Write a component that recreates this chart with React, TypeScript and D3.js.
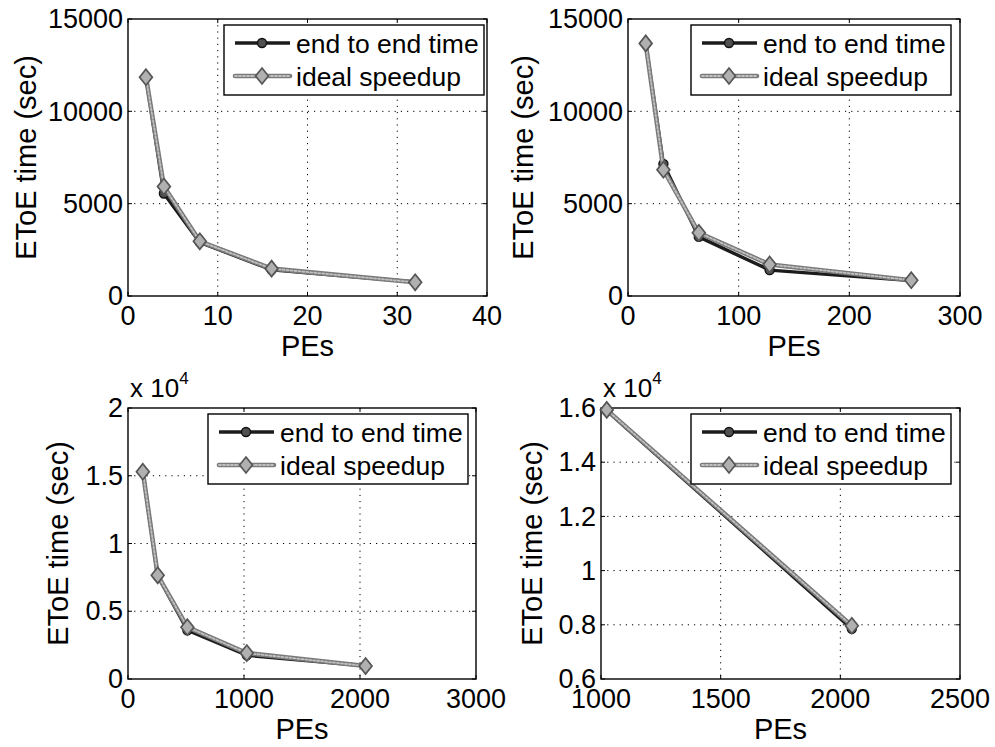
import React from "react";
import * as d3 from "d3";

// ---------- data ----------
const pes1 = [2, 4, 8, 16, 32];
const endToEnd1 = [11850, 5550, 2900, 1420, 760];
const ideal1 = [11850, 5925, 2962, 1481, 740];

const pes2 = [16, 32, 64, 128, 256];
const endToEnd2 = [13680, 7150, 3200, 1400, 830];
const ideal2 = [13680, 6840, 3420, 1710, 855];

const pes3 = [128, 256, 512, 1024, 2048];
const endToEnd3 = [15300, 7600, 3600, 1750, 980];
const ideal3 = [15300, 7650, 3825, 1912, 956];

const pes4 = [1024, 2048];
const endToEnd4 = [15900, 7850];
const ideal4 = [15930, 7965];

const xTicks1 = [0, 10, 20, 30, 40];
const xTicks2 = [0, 100, 200, 300];
const xTicks3 = [0, 1000, 2000, 3000];
const xTicks4 = [1000, 1500, 2000, 2500];
const yTicksA = [0, 5000, 10000, 15000];
const yTicks3 = [0, 5000, 10000, 15000, 20000];
const yTicks4 = [6000, 8000, 10000, 12000, 14000, 16000];

const seriesNames = ["end to end time", "ideal speedup"];
const xLabel = "PEs";
const yLabel = "EToE time (sec)";

// ---------- layout ----------
type Panel = {
  box: [number, number, number, number]; // left, right, top, bottom
  xDom: [number, number];
  yDom: [number, number];
  xTicks: number[];
  yTicks: number[];
  pes: number[];
  e2e: number[];
  ideal: number[];
  sci: boolean;
  yLabelX: number;
  legendRight: number;
};

const panels: Panel[] = [
  { box: [128, 487, 19, 296], xDom: [0, 40], yDom: [0, 15000], xTicks: xTicks1, yTicks: yTicksA, pes: pes1, e2e: endToEnd1, ideal: ideal1, sci: false, yLabelX: 36, legendRight: 484 },
  { box: [628, 960, 19, 296], xDom: [0, 300], yDom: [0, 15000], xTicks: xTicks2, yTicks: yTicksA, pes: pes2, e2e: endToEnd2, ideal: ideal2, sci: false, yLabelX: 533, legendRight: 951 },
  { box: [128, 476, 408, 679], xDom: [0, 3000], yDom: [0, 20000], xTicks: xTicks3, yTicks: yTicks3, pes: pes3, e2e: endToEnd3, ideal: ideal3, sci: true, yLabelX: 68, legendRight: 468 },
  { box: [601, 960, 408, 679], xDom: [1000, 2500], yDom: [6000, 16000], xTicks: xTicks4, yTicks: yTicks4, pes: pes4, e2e: endToEnd4, ideal: ideal4, sci: true, yLabelX: 542, legendRight: 951 },
];

const FONT = "'Liberation Sans', Arial, Helvetica, sans-serif";

function fmtSci(v: number) {
  const s = v / 10000;
  return d3.format("~g")(+s.toFixed(2));
}

function Diamond({ x, y }: { x: number; y: number }) {
  const r = 8;
  return (
    <path
      d={`M${x},${y - r}L${x + r * 0.8},${y}L${x},${y + r}L${x - r * 0.8},${y}Z`}
      fill="#b0b0b0"
      stroke="#555"
      strokeWidth={1.7}
    />
  );
}

function Dot({ x, y }: { x: number; y: number }) {
  return <circle cx={x} cy={y} r={4.5} fill="#505050" stroke="#111" strokeWidth={1.4} />;
}

function IdealLine({ d }: { d: string }) {
  return (
    <g fill="none" strokeLinejoin="round" strokeLinecap="round">
      <path d={d} stroke="#7a7a7a" strokeWidth={4.6} />
      <path d={d} stroke="#c0c0c0" strokeWidth={1.8} strokeDasharray="2,2" />
    </g>
  );
}

function E2ELine({ d }: { d: string }) {
  return <path d={d} fill="none" stroke="#1c1c1c" strokeWidth={3.4} strokeLinejoin="round" />;
}

function PanelView({ p }: { p: Panel }) {
  const [L, R, T, B] = p.box;
  const x = d3.scaleLinear().domain(p.xDom).range([L, R]);
  const y = d3.scaleLinear().domain(p.yDom).range([B, T]);
  const line = d3
    .line<[number, number]>()
    .x((d) => x(d[0]))
    .y((d) => y(d[1]));
  const e2ePts = p.pes.map((v, i) => [v, p.e2e[i]] as [number, number]);
  const idealPts = p.pes.map((v, i) => [v, p.ideal[i]] as [number, number]);
  const tickLen = 4;
  const grid = "1.2,5";

  const lgW = 260;
  const lgL = p.legendRight - lgW;
  const lgT = T + 6;
  const lgH = 70;

  return (
    <g fontFamily={FONT}>
      {/* grid */}
      {p.xTicks
        .filter((t) => t !== p.xDom[0] && t !== p.xDom[1])
        .map((t) => (
          <line key={"gx" + t} x1={x(t)} x2={x(t)} y1={T} y2={B} stroke="#000" strokeWidth={1} strokeDasharray={grid} />
        ))}
      {p.yTicks
        .filter((t) => t !== p.yDom[0] && t !== p.yDom[1])
        .map((t) => (
          <line key={"gy" + t} x1={L} x2={R} y1={y(t)} y2={y(t)} stroke="#000" strokeWidth={1} strokeDasharray={grid} />
        ))}
      {/* ticks */}
      {p.xTicks.map((t) => (
        <g key={"tx" + t}>
          <line x1={x(t)} x2={x(t)} y1={B} y2={B - tickLen} stroke="#000" />
          <line x1={x(t)} x2={x(t)} y1={T} y2={T + tickLen} stroke="#000" />
          <text x={x(t)} y={B + 29} fontSize={27} textAnchor="middle" fill="#000">
            {t}
          </text>
        </g>
      ))}
      {p.yTicks.map((t) => (
        <g key={"ty" + t}>
          <line x1={L} x2={L + tickLen} y1={y(t)} y2={y(t)} stroke="#000" />
          <line x1={R} x2={R - tickLen} y1={y(t)} y2={y(t)} stroke="#000" />
          <text x={L - 5} y={y(t)} dy="0.34em" fontSize={27} textAnchor="end" fill="#000">
            {p.sci ? fmtSci(t) : t}
          </text>
        </g>
      ))}
      {p.sci && (
        <text x={L + 2} y={T - 11} fontSize={26} fill="#000">
          x 10
          <tspan dy={-13} fontSize={17}>
            4
          </tspan>
        </text>
      )}
      {/* frame */}
      <rect x={L} y={T} width={R - L} height={B - T} fill="none" stroke="#000" strokeWidth={1.4} />
      {/* series */}
      <E2ELine d={line(e2ePts) || ""} />
      {e2ePts.map((d, i) => (
        <Dot key={"d" + i} x={x(d[0])} y={y(d[1])} />
      ))}
      <IdealLine d={line(idealPts) || ""} />
      {idealPts.map((d, i) => (
        <Diamond key={"m" + i} x={x(d[0])} y={y(d[1])} />
      ))}
      {/* axis labels */}
      <text x={(L + R) / 2} y={B + 60} fontSize={29} textAnchor="middle" fill="#000">
        {xLabel}
      </text>
      <text
        transform={`translate(${p.yLabelX},${(T + B) / 2}) rotate(-90)`}
        fontSize={29}
        textAnchor="middle"
        fill="#000"
      >
        {yLabel}
      </text>
      {/* legend */}
      <rect x={lgL} y={lgT} width={lgW} height={lgH} fill="#fff" stroke="#000" strokeWidth={1.4} />
      <E2ELine d={`M${lgL + 11},${lgT + 18}L${lgL + 66},${lgT + 18}`} />
      <Dot x={lgL + 38} y={lgT + 18} />
      <text x={lgL + 72} y={lgT + 28} fontSize={26.5} fill="#000">
        {seriesNames[0]}
      </text>
      <IdealLine d={`M${lgL + 11},${lgT + 51}L${lgL + 66},${lgT + 51}`} />
      <Diamond x={lgL + 38} y={lgT + 51} />
      <text x={lgL + 72} y={lgT + 61} fontSize={26.5} fill="#000">
        {seriesNames[1]}
      </text>
    </g>
  );
}

export default function App() {
  return (
    <svg
      width={995}
      height={747}
      style={{ position: "absolute", left: 0, top: 0, background: "#fff" }}
    >
      <rect width={995} height={747} fill="#fff" />
      {panels.map((p, i) => (
        <PanelView key={i} p={p} />
      ))}
    </svg>
  );
}
